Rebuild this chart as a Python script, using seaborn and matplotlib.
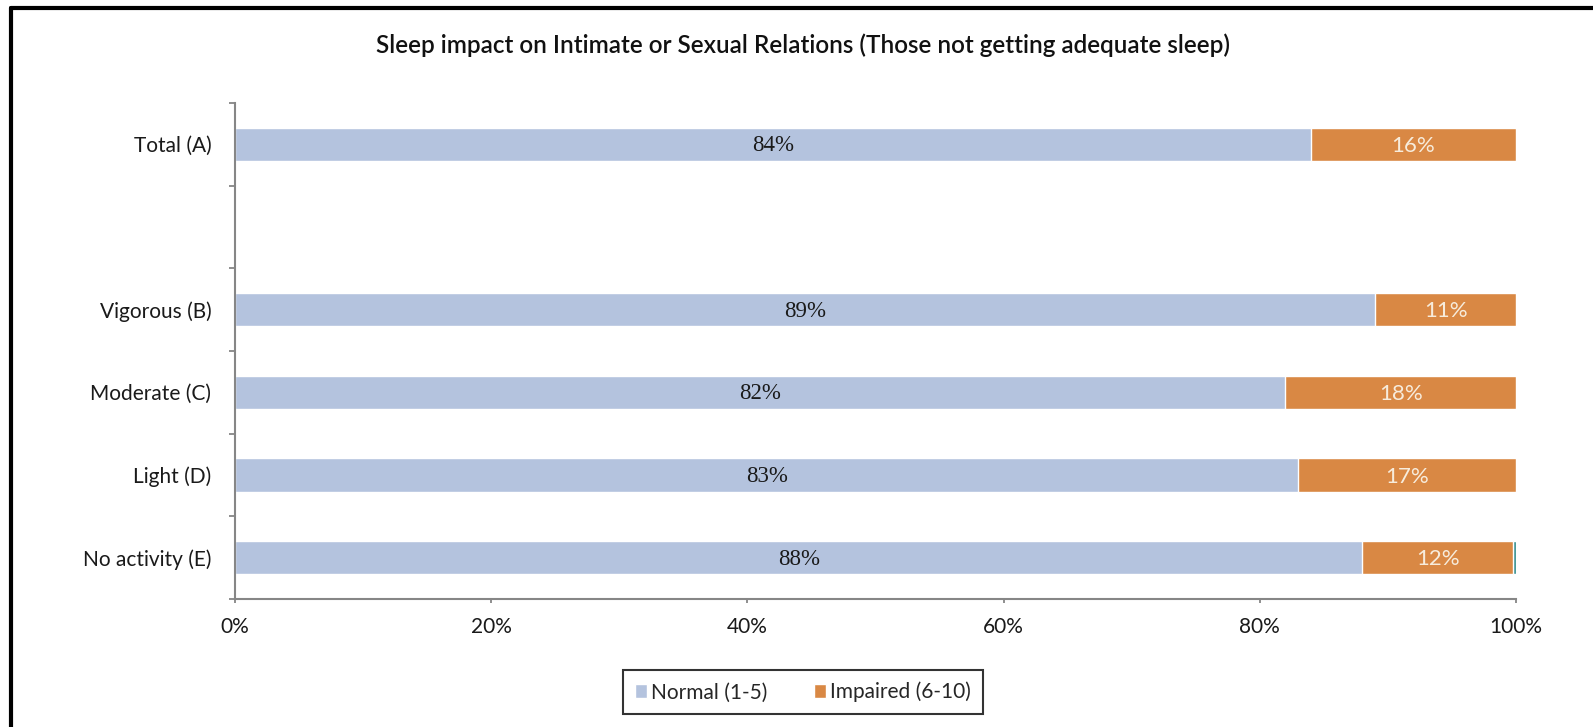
import numpy as np
import pandas as pd
import seaborn as sns
import matplotlib.pyplot as plt
from matplotlib.patches import Patch
from matplotlib.lines import Line2D

# data
groups = ["Total (A)", " ", "Vigorous (B)", "Moderate (C)", "Light (D)", "No activity (E)"]
normal = [84, np.nan, 89, 82, 83, 88]
impaired = [16, np.nan, 11, 18, 17, 11.8]
other = [0, np.nan, 0, 0, 0, 0.3]
x_ticks = [0, 20, 40, 60, 80, 100]

c_normal = "#b4c3de"
c_impaired = "#d98844"
c_other = "#4a9a9a"

df = pd.DataFrame({"group": groups, "normal": normal, "impaired": impaired, "other": other})
df["cum_imp"] = df["normal"] + df["impaired"]
df["cum_all"] = df["cum_imp"] + df["other"]

sns.set_theme(style="white")
plt.rcParams["font.family"] = ["Lato", "DejaVu Sans"]

fig = plt.figure(figsize=(15.93, 7.27), dpi=100)
ax = fig.add_axes([0.1475, 0.1761, 0.8042, 0.6822])

# stacked bars by overlaying cumulative totals
plot_df = df.dropna()
sns.barplot(data=plot_df, y="group", x="cum_all", order=groups, color=c_other,
            width=0.4, saturation=1, ax=ax, orient="h")
sns.barplot(data=plot_df, y="group", x="cum_imp", order=groups, color=c_impaired,
            width=0.4, saturation=1, ax=ax, orient="h")
sns.barplot(data=plot_df, y="group", x="normal", order=groups, color=c_normal,
            width=0.4, saturation=1, ax=ax, orient="h")

# data labels
for i, row in df.iterrows():
    if np.isnan(row["normal"]):
        continue
    ax.text(row["normal"] / 2, i + 0.02, f"{row['normal']:.0f}%", ha="center", va="center",
            fontsize=16.5, color="#1a1a1a", family=["Liberation Serif"])
    ax.text(row["normal"] + row["impaired"] / 2, i + 0.02, f"{row['impaired']:.0f}%",
            ha="center", va="center", fontsize=16, color="#f7ecdc")

ax.set_xlim(0, 100)
ax.set_ylim(len(groups) - 0.5, -0.5)
ax.set_xticks(x_ticks)
ax.set_xticklabels([f"{t}%" for t in x_ticks], fontsize=15, color="#1a1a1a")
ax.set_yticks(range(len(groups)))
ax.set_yticklabels(groups, fontsize=15, color="#1a1a1a")
ax.set_yticks(np.arange(-0.5, len(groups), 1), minor=True)
ax.tick_params(axis="y", which="major", left=False, length=0, pad=17)
ax.tick_params(axis="y", which="minor", left=True, length=4, width=1.3, color="#868686", direction="out")
ax.tick_params(axis="x", which="major", bottom=True, length=3, width=1.3, color="#868686",
               direction="out", pad=10)
ax.set_xlabel("")
ax.set_ylabel("")

for side in ["top", "right"]:
    ax.spines[side].set_visible(False)
for side in ["left", "bottom"]:
    ax.spines[side].set_color("#868686")
    ax.spines[side].set_linewidth(1.5)

fig.text(0.504, 0.938, "Sleep impact on Intimate or Sexual Relations (Those not getting adequate sleep)",
         ha="center", va="center", fontsize=17.5, fontweight="semibold", color="#111111")

handles = [Patch(facecolor=c_normal, label="Normal (1-5)"),
           Patch(facecolor=c_impaired, label="Impaired (6-10)")]
leg = fig.legend(handles=handles, loc="center", bbox_to_anchor=(0.504, 0.048), ncol=2,
                 fontsize=15, frameon=True, fancybox=False, handlelength=0.6, handleheight=0.6,
                 handletextpad=0.2, columnspacing=2.2, borderpad=0.55)
leg.get_frame().set_edgecolor("black")
leg.get_frame().set_linewidth(1.5)

# outer chart frame (only top and left edges fall inside the image)
fx, fy = 11 / 1593, 1 - 8 / 727
fig.add_artist(Line2D([fx, fx], [0, fy], transform=fig.transFigure, color="black", linewidth=3))
fig.add_artist(Line2D([fx, 1], [fy, fy], transform=fig.transFigure, color="black", linewidth=3))

fig.savefig("out.png", dpi=100)
